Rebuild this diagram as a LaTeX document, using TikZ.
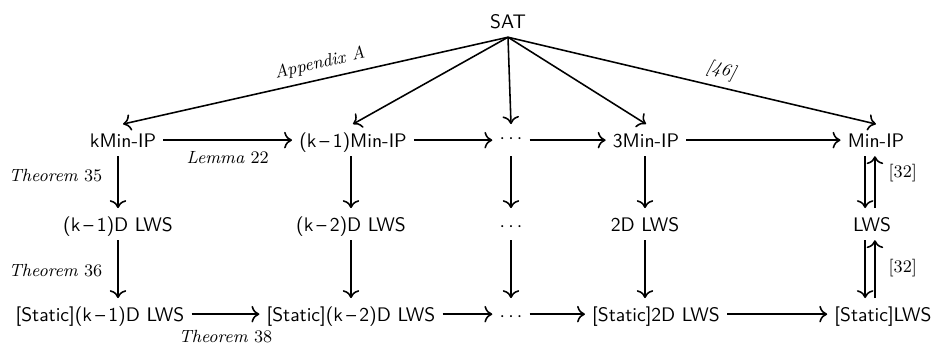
\documentclass[tikz,border=0pt]{standalone}
\usetikzlibrary{arrows.meta}
\begin{document}
\begin{tikzpicture}[
        x=0.51pt, y=-0.51pt,
        prob/.style={font=\sffamily, anchor=base, text height=7pt, text depth=0pt, inner xsep=3.5pt, inner ysep=4.5pt},
        lbl/.style={font=\small, inner sep=2pt},
        cite/.style={font=\small, inner sep=2pt},
        reduction/.style={draw, -{To[scale=1.2]}, line width=0.8pt},
    ]
    \useasboundingbox (0,0) rectangle (933,352);
    \node[prob](sat) at (508,28) {SAT};
    \node[prob](kmin) at (123,147) {kMin-IP};
    \node[prob](kmmin) at (353,147) {(k\,--\,1)Min-IP};
    \node[prob](dmin) at (511,147) {\raisebox{2pt}{$\cdots$}};
    \node[prob](three) at (646,147) {3Min-IP};
    \node[prob](min) at (876,147) {Min-IP};
    \node[prob](kmlws) at (118,231) {(k\,--\,1)D LWS};
    \node[prob](k2lws) at (351,231) {(k\,--\,2)D LWS};
    \node[prob](dlws) at (511,231) {$\cdots$};
    \node[prob](two) at (645,231) {2D LWS};
    \node[prob](lws) at (872,231) {LWS};
    \node[prob](skm) at (100,321) {[Static](k\,--\,1)D LWS};
    \node[prob](sk2) at (351,321) {[Static](k\,--\,2)D LWS};
    \node[prob](sd) at (511,321) {$\cdots$};
    \node[prob](stwo) at (656,321) {[Static]2D LWS};
    \node[prob](slws) at (883,321) {[Static]LWS};

    \draw[reduction] (sat.south) -- node[lbl, sloped, above=1.5pt, pos=0.48]{\textit{Appendix A}} (kmin.north);
    \draw[reduction] (sat.south) -- (kmmin.north);
    \draw[reduction] (sat.south) -- (dmin.north);
    \draw[reduction] (sat.south) -- (three.north);
    \draw[reduction] (sat.south) -- node[lbl, sloped, above=1.5pt, pos=0.57]{\textit{[46]}} (min.north);

    \draw[reduction] (kmin) -- node[lbl, below=3.5pt]{\textit{Lemma} 22} (kmmin);
    \draw[reduction] (kmmin) -- (dmin);
    \draw[reduction] (dmin) -- (three);
    \draw[reduction] (three) -- (min);

    \draw[reduction] (kmin.south -| kmlws) -- node[lbl, left=5.6pt, pos=0.38]{\textit{Theorem} 35} (kmlws);
    \draw[reduction] (kmmin.south -| k2lws) -- (k2lws);
    \draw[reduction] (dmin) -- (dlws);
    \draw[reduction] (three.south -| two) -- (two);
    \draw[reduction, transform canvas={xshift=-3.5pt}] (lws |- min.south) -- (lws);
    \draw[reduction, transform canvas={xshift=1.5pt}] (lws) -- node[cite, right=4.6pt, pos=0.67]{[32]} (lws |- min.south);

    \draw[reduction] (kmlws) -- node[lbl, left=5.6pt, pos=0.52]{\textit{Theorem} 36} (kmlws |- skm.north);
    \draw[reduction] (k2lws) -- (k2lws |- sk2.north);
    \draw[reduction] (dlws) -- (sd);
    \draw[reduction] (two) -- (two |- stwo.north);
    \draw[reduction, transform canvas={xshift=-3.5pt}] (lws) -- (lws |- slws.north);
    \draw[reduction, transform canvas={xshift=1.5pt}] (lws |- slws.north) -- node[cite, right=4.6pt, pos=0.52]{[32]} (lws);

    \draw[reduction] (skm) -- node[lbl, below=5.8pt]{\textit{Theorem} 38} (sk2);
    \draw[reduction] (sk2) -- (sd);
    \draw[reduction] (sd) -- (stwo);
    \draw[reduction] (stwo) -- (slws);
\end{tikzpicture}
\end{document}
